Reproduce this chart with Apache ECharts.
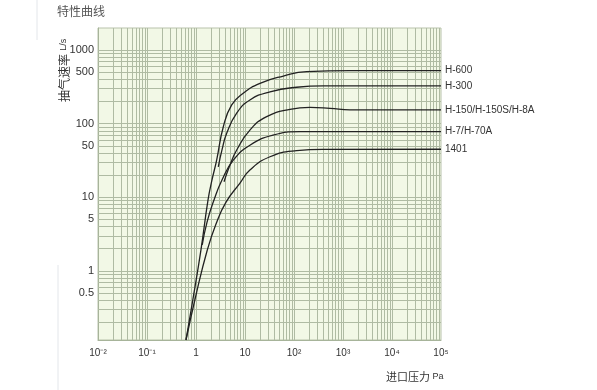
<!DOCTYPE html>
<html><head><meta charset="utf-8">
<script src="https://cdn.jsdelivr.net/npm/echarts@6/dist/echarts.min.js"></script>
<style>html,body{margin:0;padding:0;background:#fff}#c{width:597px;height:390px}</style>
</head><body><div id="c"></div><script>
// ---- data (inlet pressure Pa, pumping speed L/s) ----
const seriesNames = ['H-600', 'H-300', 'H-150/H-150S/H-8A', 'H-7/H-70A', '1401'];
const h600 = [[0.625,0.115],[0.86,0.40],[1.26,1.92],[1.76,9.2],[2.12,17.2],[2.64,32],[3.61,91],[5.35,180],[9.2,260],[20.2,354],[60.5,445],[182,510],[1390,526],[1e5,526]];
const h300 = [[2.85,26],[3.39,44],[4.23,74],[6.77,139],[12.6,210],[32.4,272],[113,313],[396,326],[1e5,326]];
const h150 = [[3.73,16.3],[4.94,27.5],[6.77,44],[12.6,82],[27.7,125],[82.8,157],[212,167],[543,162],[1390,154],[1e5,154]];
const h70 = [[1.34,2.25],[1.68,4.6],[2.33,9.2],[3.39,17.2],[5.77,32],[12.6,51],[37.3,70],[133,78],[1e5,78]];
const h1401 = [[0.625,0.115],[1.0,0.47],[1.70,1.92],[2.56,4.34],[4.10,8.6],[7.9,15.6],[12.6,23.5],[32.4,35.6],[113,43],[396,44.9],[1e5,45]];
const curves = [h600, h300, h150, h70, h1401];

// ---- axis labels ----
const xTickLabels = ['10⁻²', '10⁻¹', '1', '10', '10²', '10³', '10⁴', '10⁵'];
const yTickValues = [1000, 500, 100, 50, 10, 5, 1, 0.5];
const yTickLabels = ['1000', '500', '100', '50', '10', '5', '1', '0.5'];

const xMin = 0.01, xMax = 1e5, yMin = 0.115, yMax = 2000;
const FONT = 'Liberation Sans, Arial, sans-serif';

// grid lines of the log paper
const gridLineData = [];
for (let k = -2; k <= 5; k++) {
  for (let m = 1; m <= 9; m++) {
    const v = m * Math.pow(10, k);
    if (v > xMin * 1.0001 && v < xMax * 0.9999) gridLineData.push({ xAxis: v });
  }
}
for (let k = -1; k <= 3; k++) {
  for (let m = 1; m <= 9; m++) {
    const v = m * Math.pow(10, k);
    if (v > yMin && v < yMax) {
      const idx = yTickValues.findIndex(t => Math.abs(t - v) / t < 1e-6);
      const item = { yAxis: v };
      if (idx >= 0) {
        item.label = { show: true, position: 'start', distance: 4, formatter: yTickLabels[idx],
                       color: '#333', fontSize: 11, fontFamily: FONT };
      }
      gridLineData.push(item);
    }
  }
}

const chart = echarts.init(document.getElementById('c'), null, { renderer: 'canvas' });
const series = [{
  type: 'line', data: [], silent: true, z: 1, clip: false,
  markLine: {
    z: 1,
    silent: true, symbol: ['none', 'none'], animation: false,
    label: { show: false },
    lineStyle: { color: '#afbba3', width: 1, type: 'solid' },
    emphasis: { disabled: true },
    data: gridLineData
  }
}];
curves.forEach((d, i) => {
  series.push({
    name: seriesNames[i], type: 'line', data: d, z: 10,
    smooth: 0.5, showSymbol: false, silent: true,
    lineStyle: { color: '#222', width: 1.3 },
    endLabel: { show: true, formatter: seriesNames[i], distance: 4, color: '#333', fontSize: 10, fontFamily: FONT }
  });
});

chart.setOption({
  animation: false,
  backgroundColor: '#ffffff',
  grid: { left: 98, right: 156, top: 28, bottom: 50, show: true, backgroundColor: '#f2f8e6', borderColor: '#b8c2ab', borderWidth: 1 },
  xAxis: {
    type: 'log', logBase: 10, min: xMin, max: xMax, splitNumber: 7,
    axisLine: { show: true, lineStyle: { color: '#a7b49a' } },
    axisTick: { show: false }, splitLine: { show: false },
    axisLabel: { color: '#333', fontSize: 10, margin: 8, fontFamily: FONT,
      formatter: v => { const k = Math.round(Math.log10(v)); return xTickLabels[k + 2] || ''; } }
  },
  yAxis: {
    type: 'log', logBase: 10, min: yMin, max: yMax,
    axisLine: { show: true, lineStyle: { color: '#a7b49a' } },
    axisTick: { show: false }, splitLine: { show: false }, axisLabel: { show: false }
  },
  graphic: [
    { type: 'text', left: 57, top: 5, style: { text: '特性曲线', fill: '#555', fontSize: 12, fontFamily: 'Noto Sans CJK SC' } },
    { type: 'text', x: 58, y: 102, rotation: Math.PI / 2,
      style: { text: '{a|抽气速率} {b|L/s}', fill: '#333',
        rich: { a: { fontSize: 12, fontFamily: 'Noto Sans CJK SC', fill: '#333' }, b: { fontSize: 9, fontFamily: FONT, fill: '#333' } } } },
    { type: 'text', left: 386, top: 371,
      style: { text: '{a|进口压力}{b| Pa}', fill: '#333',
        rich: { a: { fontSize: 11, fontFamily: 'Noto Sans CJK SC', fill: '#333' }, b: { fontSize: 9, fontFamily: FONT, fill: '#333' } } } },
    { type: 'line', shape: { x1: 37, y1: 0, x2: 37, y2: 40 }, style: { stroke: '#e3e6ea', lineWidth: 1 } },
    { type: 'line', shape: { x1: 58, y1: 265, x2: 58, y2: 390 }, style: { stroke: '#e3e6ea', lineWidth: 1 } }
  ],
  series: series
});
</script></body></html>
